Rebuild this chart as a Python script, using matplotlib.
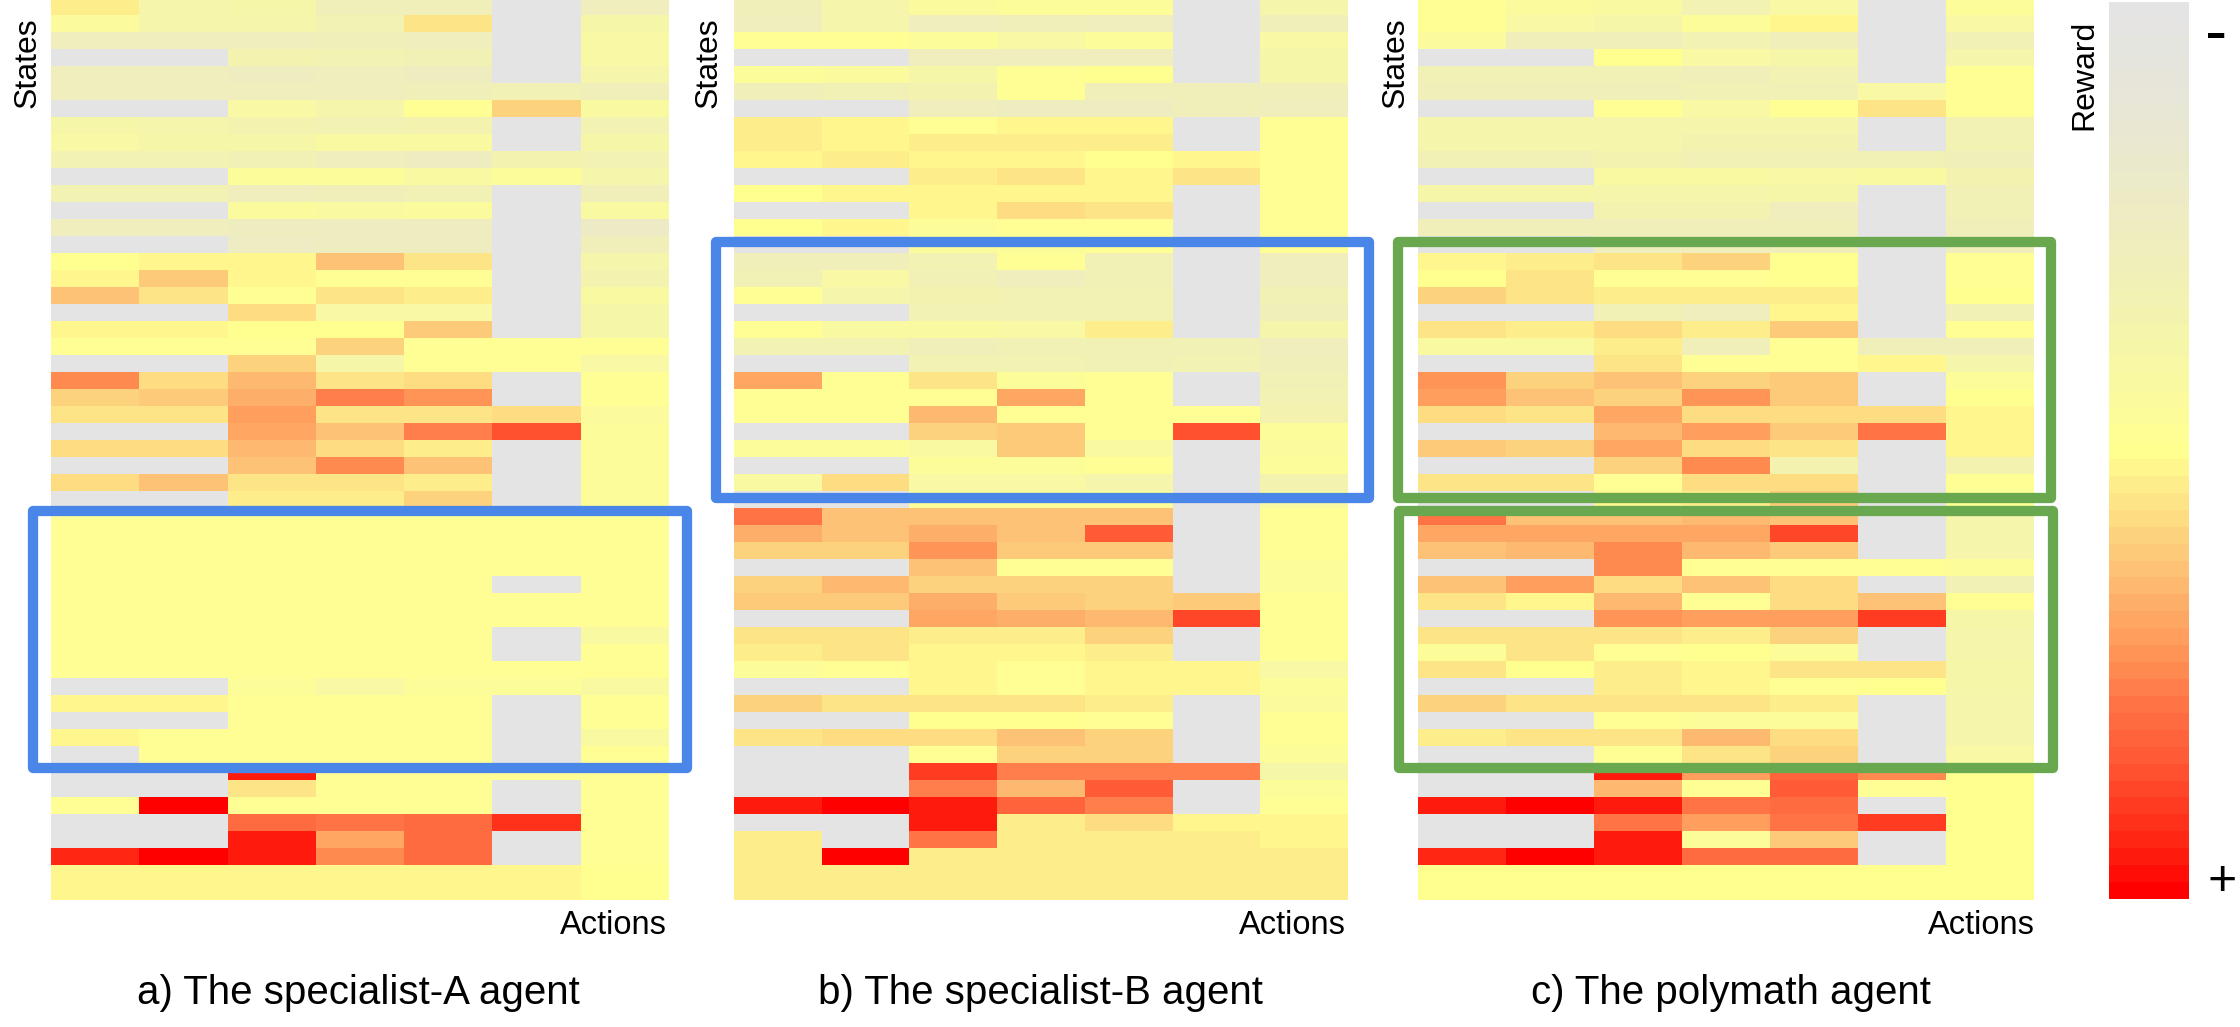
import numpy as np
from matplotlib import pyplot as plt
from matplotlib.colors import LinearSegmentedColormap
from matplotlib.patches import Rectangle

plt.rcParams['font.family'] = ['Liberation Sans', 'DejaVu Sans']

N = np.nan  # action never taken in that state

# reward per state (rows) and action (columns), 0 = lowest, 100 = highest
panel_a = [
    [53, 36, 38, 30, 30, N, 28],
    [45, 36, 37, 33, 56, N, 38],
    [27, 27, 27, 29, 28, N, 40],
    [N, N, 35, 33, 32, N, 40],
    [28, 28, 25, 27, 26, N, 36],
    [28, 28, 28, 28, 30, 31, 30],
    [N, N, 40, 36, 48, 60, 42],
    [38, 37, 35, 33, 35, N, 33],
    [40, 39, 39, 43, 42, N, 38],
    [33, 33, 32, 28, 25, 34, 33],
    [N, N, 46, 46, 43, 47, 37],
    [33, 33, 28, 30, 32, N, 29],
    [N, N, 45, 43, 44, N, 42],
    [27, 27, 25, 25, 25, N, 22],
    [N, N, 23, 25, 25, N, 30],
    [50, 52, 52, 63, 55, N, 37],
    [51, 62, 52, 49, 49, N, 34],
    [64, 55, 49, 56, 53, N, 42],
    [N, N, 57, 40, 40, N, 38],
    [52, 52, 50, 50, 61, N, 39],
    [49, 49, 48, 59, 49, 49, 48],
    [N, N, 59, 38, 49, 49, 40],
    [75, 57, 65, 55, 57, N, 49],
    [60, 61, 67, 77, 73, N, 49],
    [56, 56, 70, 55, 56, 57, 44],
    [N, N, 68, 64, 77, 85, 47],
    [57, 57, 65, 58, 54, N, 47],
    [N, N, 64, 74, 63, N, 47],
    [57, 63, 56, 56, 53, N, 47],
    [N, N, 54, 54, 59, N, 47],
    [49, 49, 49, 49, 49, 49, 49],
    [49, 49, 49, 49, 49, 49, 49],
    [49, 49, 49, 49, 49, 49, 49],
    [49, 49, 49, 49, 49, 49, 49],
    [49, 49, 49, 49, 49, N, 49],
    [49, 49, 49, 49, 49, 49, 49],
    [49, 49, 48, 49, 49, 49, 49],
    [49, 49, 49, 49, 49, N, 43],
    [49, 49, 49, 49, 49, N, 49],
    [49, 49, 49, 49, 49, 49, 49],
    [N, N, 46, 41, 47, 47, 42],
    [51, 51, 49, 49, 49, N, 48],
    [N, N, 49, 49, 48, N, 48],
    [51, 49, 49, 49, 49, N, 43],
    [N, 49, 49, 49, 49, N, 49],
    [N, N, 95, 49, 49, 49, 49],
    [N, N, 55, 49, 49, N, 48],
    [49, 100, 49, 49, 49, N, 48],
    [N, N, 80, 79, 80, 91, 48],
    [N, N, 95, 68, 80, N, 48],
    [94, 100, 95, 74, 80, N, 48],
    [51, 51, 51, 51, 51, 51, 50],
    [51, 51, 51, 51, 51, 51, 50],
]

panel_b = [
    [30, 37, 44, 47, 46, N, 37],
    [27, 36, 27, 29, 27, N, 30],
    [49, 49, 47, 40, 47, N, 40],
    [N, N, 27, 28, 27, N, 38],
    [47, 44, 38, 49, 50, N, 38],
    [30, 31, 35, 49, 30, 30, 30],
    [N, N, 27, 26, 26, 30, 27],
    [54, 52, 49, 52, 52, N, 49],
    [54, 51, 53, 53, 53, N, 49],
    [51, 53, 51, 52, 50, 51, 49],
    [N, N, 54, 55, 51, 55, 49],
    [50, 51, 52, 52, 51, N, 49],
    [N, N, 52, 57, 55, N, 49],
    [50, 51, 46, 49, 49, N, 49],
    [N, N, 45, 47, 49, N, 49],
    [30, 30, 33, 49, 32, N, 28],
    [32, 41, 32, 28, 32, N, 27],
    [49, 36, 34, 33, 33, N, 32],
    [N, N, 33, 33, 33, N, 30],
    [49, 42, 42, 40, 54, N, 37],
    [33, 33, 30, 31, 31, 31, 27],
    [N, N, 33, 33, 32, 33, 29],
    [69, 49, 55, 47, 49, N, 32],
    [49, 49, 49, 69, 49, N, 33],
    [49, 49, 66, 49, 49, 49, 34],
    [N, N, 59, 61, 48, 86, 46],
    [47, 47, 43, 62, 42, N, 44],
    [N, N, 47, 47, 48, N, 46],
    [42, 57, 40, 40, 37, N, 35],
    [N, N, 47, 47, 47, N, 42],
    [79, 63, 63, 63, 63, N, 49],
    [67, 63, 67, 63, 84, N, 49],
    [60, 60, 72, 61, 61, N, 49],
    [N, N, 63, 49, 48, N, 47],
    [60, 66, 60, 60, 60, N, 46],
    [62, 62, 67, 61, 60, 61, 49],
    [N, N, 69, 67, 66, 88, 49],
    [56, 56, 54, 54, 59, N, 49],
    [54, 55, 52, 52, 53, N, 49],
    [46, 49, 52, 49, 52, 52, 41],
    [N, N, 52, 49, 52, 52, 46],
    [60, 56, 55, 55, 54, N, 44],
    [N, N, 50, 50, 49, N, 49],
    [56, 57, 58, 63, 59, N, 49],
    [N, N, 48, 60, 59, N, 47],
    [N, N, 90, 77, 76, 76, 39],
    [N, N, 77, 65, 84, N, 47],
    [95, 100, 96, 83, 77, N, 48],
    [N, N, 96, 53, 57, 52, 52],
    [53, N, 78, 53, 53, 53, 52],
    [53, 100, 53, 53, 53, 53, 53],
    [53, 53, 53, 53, 53, 53, 53],
    [53, 53, 53, 53, 53, 53, 54],
]

panel_c = [
    [48, 44, 43, 33, 40, N, 46],
    [49, 40, 38, 46, 52, N, 40],
    [45, 30, 29, 33, 30, N, 31],
    [N, N, 50, 40, 38, N, 36],
    [32, 32, 31, 30, 33, N, 49],
    [29, 29, 29, 31, 32, 40, 49],
    [N, N, 48, 41, 49, 56, 49],
    [37, 37, 36, 36, 36, N, 33],
    [37, 37, 36, 35, 35, N, 33],
    [31, 32, 34, 32, 32, 32, 30],
    [N, N, 43, 42, 41, 43, 35],
    [38, 38, 36, 36, 38, N, 32],
    [N, N, 35, 34, 27, N, 31],
    [29, 29, 29, 30, 30, N, 29],
    [N, N, 27, 27, 30, N, 28],
    [51, 53, 55, 59, 50, N, 49],
    [50, 56, 49, 48, 50, N, 49],
    [60, 56, 53, 54, 53, N, 50],
    [N, N, 31, 27, 52, N, 32],
    [56, 54, 58, 54, 61, N, 48],
    [42, 42, 54, 30, 49, 30, 30],
    [N, N, 56, 49, 49, 51, 37],
    [72, 59, 64, 60, 61, N, 47],
    [70, 63, 60, 73, 62, N, 50],
    [57, 56, 69, 58, 57, 58, 51],
    [N, N, 65, 71, 62, 79, 51],
    [61, 60, 68, 57, 56, N, 51],
    [N, N, 60, 74, 34, N, 34],
    [56, 56, 48, 58, 58, N, 48],
    [N, N, 52, 53, 62, N, 48],
    [79, 64, 63, 65, 63, N, 36],
    [69, 68, 68, 69, 87, N, 36],
    [64, 65, 74, 65, 62, N, 36],
    [N, N, 75, 48, 48, 48, 46],
    [63, 70, 58, 63, 58, N, 32],
    [56, 52, 66, 48, 58, 64, 48],
    [N, N, 72, 71, 71, 90, 38],
    [56, 56, 56, 54, 59, N, 37],
    [47, 55, 49, 50, 47, N, 36],
    [56, 50, 53, 52, 56, 55, 38],
    [N, N, 53, 51, 48, 50, 38],
    [60, 55, 55, 55, 54, N, 37],
    [N, N, 48, 47, 47, N, 36],
    [53, 56, 56, 65, 58, N, 36],
    [N, N, 48, 56, 59, N, 40],
    [N, N, 96, 70, 82, 74, 50],
    [N, N, 65, 48, 84, 49, 50],
    [96, 100, 96, 78, 80, N, 50],
    [N, N, 78, 70, 78, 90, 50],
    [N, N, 96, 47, 62, N, 50],
    [93, 100, 95, 80, 80, N, 50],
    [50, 50, 50, 50, 50, 50, 50],
    [50, 50, 50, 50, 50, 50, 50],
]

panel_titles = ['a) The specialist-A agent', 'b) The specialist-B agent', 'c) The polymath agent']

W, H = 2240, 1027

cmap_points = [
    (0.00, '#e4e4e4'), (0.11, '#e8e6d6'), (0.22, '#ecebc5'), (0.33, '#f2f2b2'),
    (0.445, '#fbfb9d'), (0.50, '#ffff90'), (0.53, '#fff28c'), (0.56, '#fde487'),
    (0.60, '#fdd07c'), (0.64, '#fdc074'), (0.67, '#fdb06a'), (0.71, '#ff9f5e'),
    (0.75, '#ff8a50'), (0.79, '#ff7245'), (0.84, '#ff5e38'), (0.90, '#ff3e22'),
    (0.95, '#ff2212'), (1.00, '#ff0000'),
]
cmap = LinearSegmentedColormap.from_list('reward', cmap_points, N=53)
cmap.set_bad('#e4e4e4')


def pixel_axes(left, top, right, bottom):
    # axes placed by pixel edges, measured from the top left corner
    return fig.add_axes([left / W, 1 - bottom / H, (right - left) / W, (bottom - top) / H])


fig = plt.figure(figsize=(W / 100, H / 100), dpi=100)

panels = [panel_a, panel_b, panel_c]
panel_edges = [(51, 669), (734, 1348), (1418, 2034)]

for values, (left, right) in zip(panels, panel_edges):
    ax = pixel_axes(left, 0, right, 899.5)
    mesh = ax.pcolormesh(np.array(values, dtype=float), cmap=cmap, vmin=0, vmax=100)
    ax.set_ylim(53, 0.12)  # first row is cut slightly at the top edge
    ax.axis('off')

cax = pixel_axes(2109, 2, 2189, 899)
bar = fig.colorbar(mesh, cax=cax)
bar.set_ticks([])
bar.outline.set_visible(False)
cax.invert_yaxis()

# overlay in pixel coordinates for the boxes and the labels
over = fig.add_axes([0, 0, 1, 1], facecolor='none')
over.set_xlim(0, W)
over.set_ylim(H, 0)
over.axis('off')

boxes = [
    (33, 510.5, 686.5, 767.5, '#4a86e8'),
    (716, 241.5, 1369, 497.5, '#4a86e8'),
    (1398, 241.5, 2051, 497.5, '#6aa84f'),
    (1398.5, 510.5, 2052.5, 767.5, '#6aa84f'),
]
for x0, y0, x1, y1, color in boxes:
    over.add_patch(Rectangle((x0, y0), x1 - x0, y1 - y0, fill=False, edgecolor=color,
                             linewidth=7.4, joinstyle='round'))

for x in [27.5, 709, 1395.5]:
    over.text(x, 17, 'States', rotation=90, ha='center', va='top', fontsize=23)
for x in [667, 1346, 2035]:
    over.text(x, 934, 'Actions', ha='right', va='baseline', fontsize=23.5)
for x, title in zip([358, 1040, 1730.5], panel_titles):
    over.text(x, 1004, title, ha='center', va='baseline', fontsize=29)

over.text(2084, 20, 'Reward', rotation=90, ha='center', va='top', fontsize=23)
over.text(2216, 36, '-', ha='center', va='center', fontsize=48)
over.text(2222, 882, '+', ha='center', va='center', fontsize=36)

fig.savefig('out.png', dpi=100)
